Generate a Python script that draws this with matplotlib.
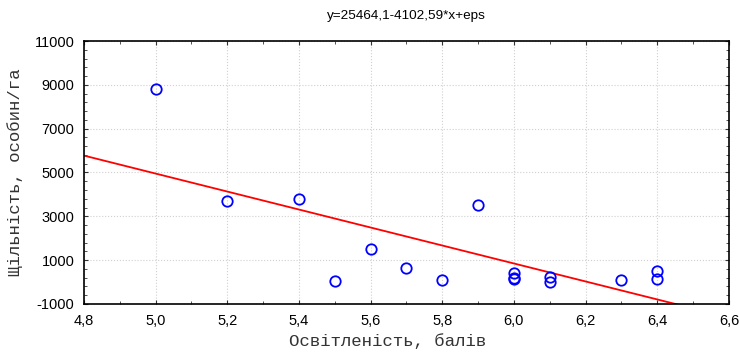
import numpy as np
import matplotlib
matplotlib.use('Agg')
import matplotlib.pyplot as plt
from matplotlib.ticker import MultipleLocator, FuncFormatter

# light level (points) vs density (individuals/ha)
light = [5.0, 5.2, 5.4, 5.5, 5.6, 5.7, 5.8, 5.9, 6.0, 6.0, 6.0, 6.1, 6.1, 6.3, 6.4, 6.4]
density = [8800, 3700, 3800, 50, 1500, 650, 100, 3500, 400, 200, 150, 250, 20, 80, 520, 130]

b0 = 25464.1
b1 = -4102.59

yticks = np.arange(-1000, 11001, 2000)

plt.rcParams['font.family'] = ['Liberation Sans', 'DejaVu Sans']

fig = plt.figure(figsize=(7.4, 3.52), dpi=100)
ax = fig.add_axes([0.1135, 0.1364, 0.8715, 0.7471])

ax.plot(light, density, 'o', mfc='none', mec='#0000ff', ms=7.5, mew=1.3,
        zorder=3, clip_on=False)

xl = np.array([4.8, 6.6])
ax.plot(xl, b0 + b1 * xl, color='#ff0000', lw=1.3, zorder=2)

ax.set_xlim(4.8, 6.6)
ax.set_ylim(-1000, 11000)
ax.xaxis.set_major_locator(MultipleLocator(0.2))
ax.xaxis.set_minor_locator(MultipleLocator(0.1))
ax.set_yticks(yticks)
ax.set_yticks(np.arange(-1000, 11001, 400), minor=True)
ax.xaxis.set_major_formatter(FuncFormatter(lambda v, p: ('%.1f' % v).replace('.', ',')))
ax.yaxis.set_major_formatter(FuncFormatter(lambda v, p: '%d' % round(v)))

ax.tick_params(which='both', direction='in', top=True, right=True,
               labelsize=10.5, pad=7, color='#333333')
ax.tick_params(which='major', length=3)
ax.tick_params(which='minor', length=2)
ax.grid(True, which='major', color='#d0d0d0', ls=':', lw=0.8)

for s in ax.spines.values():
    s.set_linewidth(1.2)

mono = ['Liberation Mono', 'DejaVu Sans Mono']
ax.set_xlabel('Освітленість, балів', family=mono, fontsize=12.5, color='#333333')
ax.set_ylabel('Щільність, особин/га', family=mono, fontsize=12.5, color='#333333', labelpad=8)
ax.xaxis.set_label_coords(0.47, -0.11)
ax.set_title('y=25464,1-4102,59*x+eps', fontsize=9.7, pad=16)

fig.savefig('out.png', dpi=100)
